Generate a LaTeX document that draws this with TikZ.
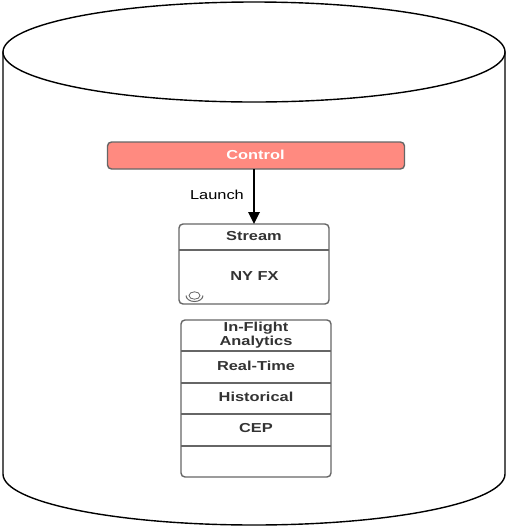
\documentclass[tikz,border=0pt]{standalone}
\usepackage{fontspec}
\setmainfont{Liberation Sans}[FakeStretch=1.26]
\usetikzlibrary{arrows.meta}
\definecolor{boxline}{HTML}{666666}
\definecolor{boxtext}{HTML}{333333}
\definecolor{ctrlfill}{HTML}{FF8A80}
\tikzset{
  px/.style={x=0.75pt,y=-0.75pt},
  cyl/.style={draw=black,line width=1.05pt,fill=white},
  panel/.style={draw=boxline,line width=1.05pt,rounded corners=3pt,fill=white,inner sep=0pt,outer sep=0pt},
  divider/.style={draw=boxline,line width=0.8pt},
  boxlabel/.style={font=\bfseries\fontsize{9.75pt}{10.6pt}\selectfont,text=boxtext,align=center,inner sep=0pt},
  flow/.style={draw=black,line width=1.7pt,-{Triangle[length=9pt,width=8.5pt]}},
}
\begin{document}
\begin{tikzpicture}[px]
\useasboundingbox (0,0) rectangle (506,526);
% cylinder
\path[cyl] (3,52) -- (3,474) arc[start angle=180,end angle=0,x radius=251,y radius=51] -- (505,52) -- cycle;
\path[cyl] (254,52) ellipse[x radius=251,y radius=50];
% control
\node[panel,fill=ctrlfill,minimum width=222.75pt,minimum height=20.25pt] (control) at (256,155.5) {};
\node[boxlabel,text=white] (controltext) at (255.5,154.5) {Control};
% stream
\node[panel,minimum width=112.5pt,minimum height=60pt] (stream) at (254,264) {};
\coordinate (sl) at (179,250); \coordinate (sr) at (329,250);
\draw[divider] (sl) -- (sr);
\node[boxlabel] (streamtext) at (254,236) {Stream};
\node[boxlabel] (nyfx) at (254.5,276) {NY FX};
% icon
\coordinate (icon) at (194.5,295.5);
\draw[boxline,line width=0.6pt] (icon) ellipse[x radius=5.5,y radius=3.7];
\draw[boxline,line width=0.75pt] (186,295.5) arc[start angle=180,end angle=0,x radius=8.5,y radius=6];
% connector
\draw[flow] (control.south -| stream.north) -- (stream.north);
\node[inner sep=0pt,font=\fontsize{9.75pt}{10.6pt}\selectfont,text=black] (launch) at (217,194.5) {Launch};
% analytics
\node[panel,minimum width=112.5pt,minimum height=117.75pt] (analytics) at (256,398.5) {};
\foreach \n/\y in {a/351,b/383,c/414,d/446}{
  \coordinate (\n l) at (181,\y); \coordinate (\n r) at (331,\y);
  \draw[divider] (\n l) -- (\n r);
}
\node[boxlabel] (flight) at (256,335) {In-Flight\\Analytics};
\node[boxlabel] (realtime) at (256,366) {Real-Time};
\node[boxlabel] (historical) at (256,397) {Historical};
\node[boxlabel] (cep) at (256,428.5) {CEP};
\end{tikzpicture}
\end{document}
